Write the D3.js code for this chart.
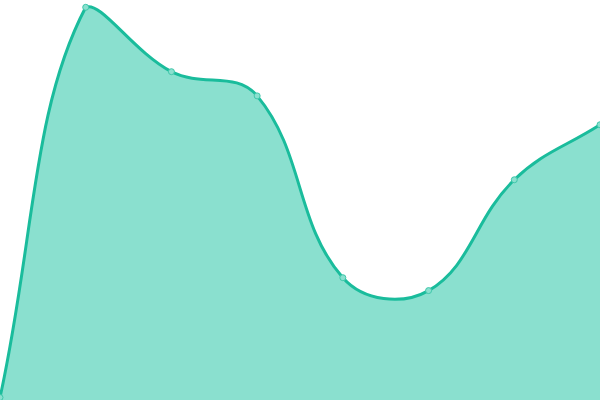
<!DOCTYPE html>
<html><head><meta charset="utf-8">
<script src="https://cdn.jsdelivr.net/npm/d3@7"></script>
<style>html,body{margin:0;padding:0;background:#fff;overflow:hidden}svg{display:block}</style>
</head><body>
<svg id="c" width="600" height="400"></svg>
<script>
const categories = ["A","B","C","D","E","F","G","H"];
const values = [0, 100, 83.5, 77.3, 30.7, 27.4, 55.8, 69.9];

const W = 600, H = 400;
const svg = d3.select("#c");
const x = d3.scalePoint().domain(categories).range([0, 600]);
const y = d3.scaleLinear().domain([0, 100]).range([397.5, 7.3]);
const data = categories.map((c, i) => ({c, v: values[i]}));

// Spline with tension, control points capped to the drawing area
function Spline(context, t) { this._context = context; this._t = t; }
Spline.prototype = {
  areaStart() { this._line = 0; },
  areaEnd() { this._line = NaN; },
  lineStart() { this._pts = []; },
  point(px, py) { this._pts.push([+px, +py]); },
  lineEnd() {
    const p = this._pts, n = p.length, ctx = this._context, t = this._t;
    const cap = c => [Math.max(0, Math.min(W, c[0])), Math.max(0, Math.min(H, c[1]))];
    if (n) {
      const cps = p.map((cur, i) => {
        const prev = p[i - 1] || cur, next = p[i + 1] || cur;
        const d01 = Math.hypot(cur[0] - prev[0], cur[1] - prev[1]);
        const d12 = Math.hypot(next[0] - cur[0], next[1] - cur[1]);
        let s01 = d01 / (d01 + d12), s12 = d12 / (d01 + d12);
        if (isNaN(s01)) s01 = 0;
        if (isNaN(s12)) s12 = 0;
        const fa = t * s01, fb = t * s12;
        return {
          a: cap([cur[0] - fa * (next[0] - prev[0]), cur[1] - fa * (next[1] - prev[1])]),
          b: cap([cur[0] + fb * (next[0] - prev[0]), cur[1] + fb * (next[1] - prev[1])])
        };
      });
      this._line ? ctx.lineTo(p[0][0], p[0][1]) : ctx.moveTo(p[0][0], p[0][1]);
      for (let i = 1; i < n; i++) {
        const c0 = cps[i - 1].b, c1 = cps[i].a;
        ctx.bezierCurveTo(c0[0], c0[1], c1[0], c1[1], p[i][0], p[i][1]);
      }
    }
    if (this._line || (this._line !== 0 && n === 1)) ctx.closePath();
    this._line = 1 - this._line;
  }
};
const curve = ctx => new Spline(ctx, 0.4);

svg.append("path").datum(data)
  .attr("d", d3.area().x(d => x(d.c)).y0(H).y1(d => y(d.v)).curve(curve))
  .attr("fill", "rgb(138,224,207)");
svg.append("path").datum(data)
  .attr("d", d3.line().x(d => x(d.c)).y(d => y(d.v)).curve(curve))
  .attr("fill", "none").attr("stroke", "#1abc9c").attr("stroke-width", 3);
svg.selectAll("circle").data(data).join("circle")
  .attr("cx", d => x(d.c)).attr("cy", d => y(d.v)).attr("r", 3)
  .attr("fill", "rgb(138,224,207)").attr("stroke", "#3fc7aa").attr("stroke-width", 1);
</script>
</body></html>
